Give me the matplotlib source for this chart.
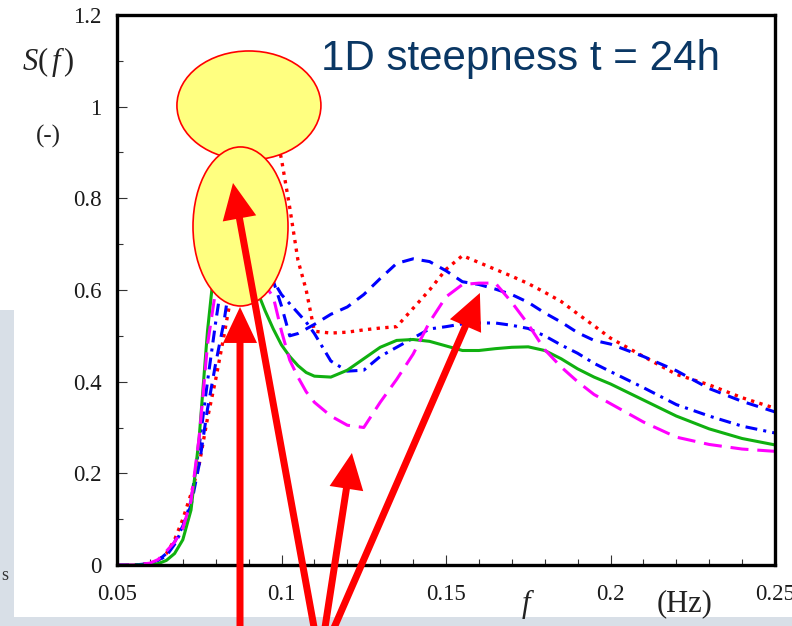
import matplotlib
matplotlib.use('Agg')
import matplotlib.pyplot as plt
from matplotlib.patches import Ellipse, FancyArrow, Rectangle
from matplotlib.ticker import MultipleLocator, FixedLocator, FixedFormatter
from matplotlib.transforms import IdentityTransform

# ---------------- data ----------------
freq = [0.05, 0.055, 0.06, 0.0625, 0.065, 0.0675, 0.07, 0.0725, 0.075, 0.0775,
        0.08, 0.0825, 0.085, 0.0875, 0.09, 0.0925, 0.095, 0.0975, 0.1, 0.1025,
        0.105, 0.1075, 0.11, 0.115, 0.12, 0.125, 0.13, 0.135, 0.14, 0.145,
        0.15, 0.155, 0.16, 0.165, 0.17, 0.175, 0.18, 0.185, 0.19, 0.195,
        0.2, 0.21, 0.22, 0.23, 0.24, 0.25]

s_red_dotted = [0, 0, 0.003, 0.01, 0.025, 0.055, 0.1, 0.155, 0.22, 0.32,
                0.405, 0.5, 0.6, 0.74, 0.88, 0.98, 1.02, 0.97, 0.885, 0.78,
                0.665, 0.6, 0.51, 0.506, 0.508, 0.513, 0.517, 0.52, 0.56, 0.6,
                0.645, 0.675, 0.66, 0.645, 0.63, 0.614, 0.595, 0.575, 0.548, 0.522,
                0.495, 0.455, 0.416, 0.393, 0.365, 0.342]

s_blue_dashed = [0, 0, 0.003, 0.01, 0.025, 0.05, 0.085, 0.13, 0.22, 0.34,
                 0.44, 0.53, 0.65, 0.78, 0.87, 0.88, 0.78, 0.62, 0.565, 0.50,
                 0.505, 0.515, 0.525, 0.547, 0.563, 0.59, 0.625, 0.658, 0.668, 0.662,
                 0.642, 0.618, 0.612, 0.602, 0.59, 0.573, 0.55, 0.53, 0.507, 0.49,
                 0.482, 0.455, 0.424, 0.385, 0.357, 0.334]

s_blue_dashdot = [0, 0, 0.003, 0.01, 0.02, 0.045, 0.08, 0.14, 0.26, 0.40,
                  0.53, 0.65, 0.75, 0.80, 0.78, 0.72, 0.66, 0.62, 0.59, 0.57,
                  0.55, 0.53, 0.505, 0.445, 0.423, 0.425, 0.455, 0.475, 0.495, 0.515,
                  0.52, 0.526, 0.528, 0.528, 0.523, 0.516, 0.50, 0.48, 0.462, 0.44,
                  0.422, 0.387, 0.35, 0.325, 0.303, 0.288]

s_green_solid = [0, 0, 0, 0.003, 0.01, 0.025, 0.055, 0.12, 0.28, 0.51,
                 0.68, 0.76, 0.78, 0.75, 0.68, 0.60, 0.555, 0.515, 0.48, 0.455,
                 0.435, 0.42, 0.412, 0.41, 0.425, 0.45, 0.475, 0.49, 0.492, 0.488,
                 0.478, 0.468, 0.468, 0.472, 0.475, 0.476, 0.468, 0.45, 0.428, 0.41,
                 0.395, 0.36, 0.325, 0.297, 0.276, 0.262]

s_magenta_longdash = [0, 0, 0.004, 0.012, 0.03, 0.05, 0.08, 0.14, 0.28, 0.48,
                      0.60, 0.66, 0.68, 0.67, 0.64, 0.62, 0.61, 0.585, 0.51, 0.447,
                      0.41, 0.378, 0.355, 0.325, 0.305, 0.30, 0.355, 0.405, 0.46, 0.53,
                      0.585, 0.612, 0.615, 0.615, 0.573, 0.525, 0.47, 0.432, 0.40, 0.372,
                      0.352, 0.312, 0.279, 0.263, 0.253, 0.248]

x_ticks = [0.05, 0.1, 0.15, 0.2, 0.25]
x_tick_labels = ['0.05', '0.1', '0.15', '0.2', '0.25']
y_ticks = [0, 0.2, 0.4, 0.6, 0.8, 1.0, 1.2]
y_tick_labels = ['0', '0.2', '0.4', '0.6', '0.8', '1', '1.2']

title_text = '1D steepness t = 24h'

# ---------------- figure ----------------
W, H, DPI = 792, 626, 100
plt.rcParams['mathtext.fontset'] = 'custom'
plt.rcParams['mathtext.rm'] = 'Liberation Serif'
plt.rcParams['mathtext.it'] = 'Liberation Serif:italic'

fig = plt.figure(figsize=(W / DPI, H / DPI), dpi=DPI)
fig.patch.set_facecolor('white')

def px(x, y):
    """pixel (from top-left) -> figure fraction"""
    return x / W, 1 - y / H

# light blue-gray background remnants
bg = '#d8dfe7'
fig.add_artist(Rectangle((0, 0), 14 / W, 1 - 310 / H, transform=fig.transFigure,
                         facecolor=bg, edgecolor='none', zorder=0))
fig.add_artist(Rectangle((0, 0), 1, 9 / H, transform=fig.transFigure,
                         facecolor=bg, edgecolor='none', zorder=0))

l, t = px(117, 15)
r, b = px(775, 565)
ax = fig.add_axes([l, b, r - l, t - b])
ax.set_xlim(0.05, 0.25)
ax.set_ylim(0, 1.2)

lw = 2.2
ax.plot(freq, s_red_dotted, color='#ff0000', lw=2.4, linestyle=(0, (1, 1.6)), zorder=2)
ax.plot(freq, s_blue_dashed, color='#0000ff', lw=lw, linestyle=(0, (3.9, 2.6)), zorder=2)
ax.plot(freq, s_blue_dashdot, color='#0000ff', lw=lw, linestyle=(0, (3.9, 2.0, 1.0, 2.0)), zorder=2)
ax.plot(freq, s_green_solid, color='#10b010', lw=lw, linestyle='-', zorder=2)
ax.plot(freq, s_magenta_longdash, color='#ff00ff', lw=lw, linestyle=(0, (5.9, 2.9)), zorder=2)

for sp in ax.spines.values():
    sp.set_linewidth(2.4)
    sp.set_color('black')

ax.xaxis.set_major_locator(FixedLocator(x_ticks))
ax.xaxis.set_major_formatter(FixedFormatter(x_tick_labels))
ax.xaxis.set_minor_locator(MultipleLocator(0.01))
ax.yaxis.set_major_locator(FixedLocator(y_ticks))
ax.yaxis.set_major_formatter(FixedFormatter(y_tick_labels))
ax.yaxis.set_minor_locator(MultipleLocator(0.1))
ax.tick_params(which='both', direction='in', top=False, right=False, width=0.8, color='#333333')
ax.tick_params(which='major', length=7)
ax.tick_params(which='minor', length=4)
ax.tick_params(axis='x', pad=14)
ax.tick_params(axis='y', pad=11)
for lab in ax.get_xticklabels() + ax.get_yticklabels():
    lab.set_fontfamily('Liberation Serif')
    lab.set_fontsize(16.5)
    lab.set_color('#1a1a1a')

# axis labels (placed as in the reference)
serif = 'Liberation Serif'
fig.text(*px(48, 62), r'$S(\,f\,)$', ha='center', va='center', fontsize=22, color='#222222')
fig.text(*px(48, 136), '(-)', ha='center', va='center', fontsize=18, family=serif, color='#222222')
fig.text(*px(528, 604), r'$f$', ha='center', va='center', fontsize=22, color='#222222')
fig.text(*px(685, 604), '(Hz)', ha='center', va='center', fontsize=22, family=serif, color='#222222')
fig.text(*px(1, 576), 's', ha='left', va='center', fontsize=13, family=serif, color='#333333')

# title
fig.text(*px(321, 70), title_text, ha='left', va='baseline', fontsize=30.3,
         family='Liberation Sans', color='#0a3764')

# highlight ellipses (data coordinates)
ax.add_patch(Ellipse((0.0901, 1.0026), 0.04377, 0.2378, facecolor='#ffff80',
                     edgecolor='#ff0000', lw=1.2, zorder=3, clip_on=False))
ax.add_patch(Ellipse((0.08754, 0.7386), 0.02888, 0.347, facecolor='#ffff80',
                     edgecolor='#ff0000', lw=1.2, zorder=3, clip_on=False))

# arrows: tips in data coords, tails in pixels below the figure
arrow_tips = [(0.08739, 0.563), (0.08526, 0.8335), (0.1214, 0.2444), (0.1603, 0.5935)]
arrow_tails_px = [(240, 660), (320, 660), (320, 660), (320, 660)]
fig.canvas.draw()
for (fx, fy), (tx, ty) in zip(arrow_tips, arrow_tails_px):
    X1, Y1 = ax.transData.transform((fx, fy))
    X0, Y0 = tx, H - ty
    fig.add_artist(FancyArrow(X0, Y0, X1 - X0, Y1 - Y0, width=7, head_width=34,
                              head_length=36, length_includes_head=True,
                              transform=IdentityTransform(), color='#ff0000',
                              lw=0, zorder=5))

fig.savefig('out.png', dpi=DPI)
